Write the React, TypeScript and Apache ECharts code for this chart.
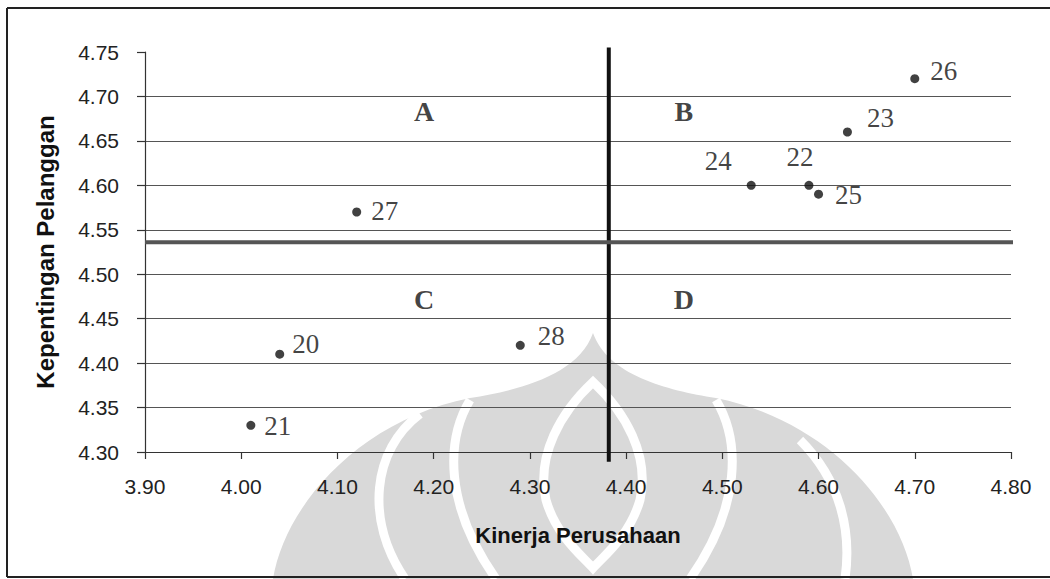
import React, { useEffect, useRef } from "react";
import * as echarts from "echarts";

// Data
const itemIds = ["20", "21", "22", "23", "24", "25", "26", "27", "28"];
const kinerja = [4.04, 4.01, 4.59, 4.63, 4.53, 4.6, 4.7, 4.12, 4.29];
const kepentingan = [4.41, 4.33, 4.6, 4.66, 4.6, 4.59, 4.72, 4.57, 4.42];
const meanKinerja = 4.382;
const meanKepentingan = 4.536;
const quadrantLetters = ["A", "B", "C", "D"];
const quadrantKinerja = [4.19, 4.46, 4.19, 4.46];
const quadrantKepentingan = [4.683, 4.683, 4.472, 4.472];

// label placement (pixel offsets from each point)
const labelOffsets = [
  [26, -10],
  [27, 1],
  [-9, -28],
  [33, -14],
  [-33, -24],
  [30, 1],
  [29, -8],
  [28, -1],
  [31, -9],
];

const X_MIN = 3.9;
const X_MAX = 4.8;
const X_STEP = 0.1;
const Y_MIN = 4.3;
const Y_MAX = 4.75;
const Y_STEP = 0.05;

// faint watermark of the scanned page (page pixel coordinates)
const WM_SILHOUETTE =
  "M273,579 C285,505 360,420 470,398 C520,390 578,375 593,333 C608,375 666,390 716,398 C826,420 901,505 913,579 Z";
const WM_GAP_INNER =
  "M593,382 C625,412 650,455 640,500 C630,535 605,555 593,568 C581,555 556,535 546,500 C536,455 561,412 593,382 Z";
const WM_GAP_MID_R = "M716,400 C740,440 742,505 690,579";
const WM_GAP_MID_L = "M470,400 C446,440 444,505 496,579";
const WM_GAP_OUT_R = "M800,440 C840,480 852,530 845,579";
const WM_GAP_OUT_L = "M420,414 C372,450 365,520 405,579";

let registered = false;
function registerWatermark() {
  if (registered) return;
  registered = true;
  const reg = (name: string, d: string) =>
    echarts.graphic.registerShape(name, echarts.graphic.extendPath(d, {}));
  reg("wmSil", WM_SILHOUETTE);
  reg("wmGapInner", WM_GAP_INNER);
  reg("wmGapMidR", WM_GAP_MID_R);
  reg("wmGapMidL", WM_GAP_MID_L);
  reg("wmGapOutR", WM_GAP_OUT_R);
  reg("wmGapOutL", WM_GAP_OUT_L);
}

export default function App() {
  const ref = useRef<HTMLDivElement>(null);
  useEffect(() => {
    if (!ref.current) return;
    registerWatermark();
    const chart = echarts.init(ref.current, null, { renderer: "svg" });
    const sans = "'Liberation Sans', Arial, sans-serif";
    const serif = "'Liberation Serif', 'Times New Roman', serif";
    const wmFill = "#d9d9d9";
    const gap = (type: string, w: number) => ({
      type,
      x: 0,
      y: 0,
      z: -19,
      silent: true,
      style: { fill: "none", stroke: "#ffffff", lineWidth: w },
    });
    const border = (x1: number, y1: number, x2: number, y2: number) => ({
      type: "line",
      z: -10,
      silent: true,
      shape: { x1, y1, x2, y2 },
      style: { stroke: "#222", lineWidth: 2 },
    });
    chart.setOption({
      animation: false,
      backgroundColor: "#ffffff",
      grid: { left: 145, right: 39, top: 52, bottom: 127 },
      xAxis: {
        type: "value",
        min: X_MIN,
        max: X_MAX,
        interval: X_STEP,
        name: "Kinerja Perusahaan",
        nameLocation: "middle",
        nameGap: 72,
        nameTextStyle: { fontFamily: sans, fontWeight: "bold", fontSize: 22, color: "#111" },
        axisLine: { show: true, lineStyle: { color: "#333", width: 1.2 } },
        axisTick: { show: true, inside: false, length: 7, lineStyle: { color: "#333", width: 1.2 } },
        axisLabel: {
          margin: 24,
          fontFamily: sans,
          fontSize: 21,
          color: "#222",
          formatter: (v: number) => v.toFixed(2),
        },
        splitLine: { show: false },
      },
      yAxis: {
        type: "value",
        min: Y_MIN,
        max: Y_MAX,
        interval: Y_STEP,
        name: "Kepentingan Pelanggan",
        nameLocation: "middle",
        nameRotate: 90,
        nameGap: 88,
        nameTextStyle: { fontFamily: sans, fontWeight: "bold", fontSize: 24, color: "#111" },
        axisLine: { show: true, onZero: false, lineStyle: { color: "#333", width: 1.2 } },
        axisTick: { show: true, inside: false, length: 8, lineStyle: { color: "#333", width: 1.2 } },
        axisLabel: {
          margin: 26,
          fontFamily: sans,
          fontSize: 21,
          color: "#222",
          formatter: (v: number) => v.toFixed(2),
        },
        splitLine: { show: true, showMaxLine: false, lineStyle: { color: "#555", width: 1.2 } },
      },
      graphic: [
        { type: "wmSil", x: 0, y: 0, z: -20, silent: true, style: { fill: wmFill } },
        gap("wmGapInner", 9),
        gap("wmGapMidR", 9),
        gap("wmGapMidL", 9),
        gap("wmGapOutR", 9),
        gap("wmGapOutL", 9),
        border(7, 8, 1060, 8),
        border(7, 8, 7, 577),
        border(7, 577, 1060, 577),
      ],
      series: [
        {
          type: "scatter",
          name: "Atribut",
          clip: false,
          symbol: "circle",
          symbolSize: 9,
          z: 5,
          itemStyle: { color: "#111" },
          data: kinerja.map((x, i) => ({
            value: [x, kepentingan[i]],
            name: itemIds[i],
            label: { offset: labelOffsets[i] },
          })),
          label: {
            show: true,
            position: "inside",
            align: "center",
            verticalAlign: "middle",
            formatter: (p: any) => p.name,
            fontFamily: serif,
            fontSize: 27,
            color: "#111",
          },
        },
        {
          type: "line",
          name: "Rata-rata Kinerja",
          clip: false,
          silent: true,
          symbol: "none",
          z: 4,
          lineStyle: { color: "#111", width: 4 },
          data: [
            [meanKinerja, 4.289],
            [meanKinerja, 4.755],
          ],
        },
        {
          type: "line",
          name: "Rata-rata Kepentingan",
          clip: false,
          silent: true,
          symbol: "none",
          z: 4,
          lineStyle: { color: "#555", width: 4 },
          data: [
            [X_MIN, meanKepentingan],
            [4.804, meanKepentingan],
          ],
        },
        {
          type: "scatter",
          name: "Kuadran",
          clip: false,
          symbolSize: 0,
          silent: true,
          data: quadrantLetters.map((q, i) => ({
            value: [quadrantKinerja[i], quadrantKepentingan[i]],
            name: q,
          })),
          label: {
            show: true,
            position: "inside",
            align: "center",
            verticalAlign: "middle",
            formatter: (p: any) => p.name,
            fontFamily: serif,
            fontWeight: "bold",
            fontSize: 28,
            color: "#111",
          },
        },
      ],
    });
    return () => chart.dispose();
  }, []);
  return (
    <div
      ref={ref}
      style={{ position: "absolute", left: 0, top: 0, width: 1050, height: 579, background: "#fff" }}
    />
  );
}
